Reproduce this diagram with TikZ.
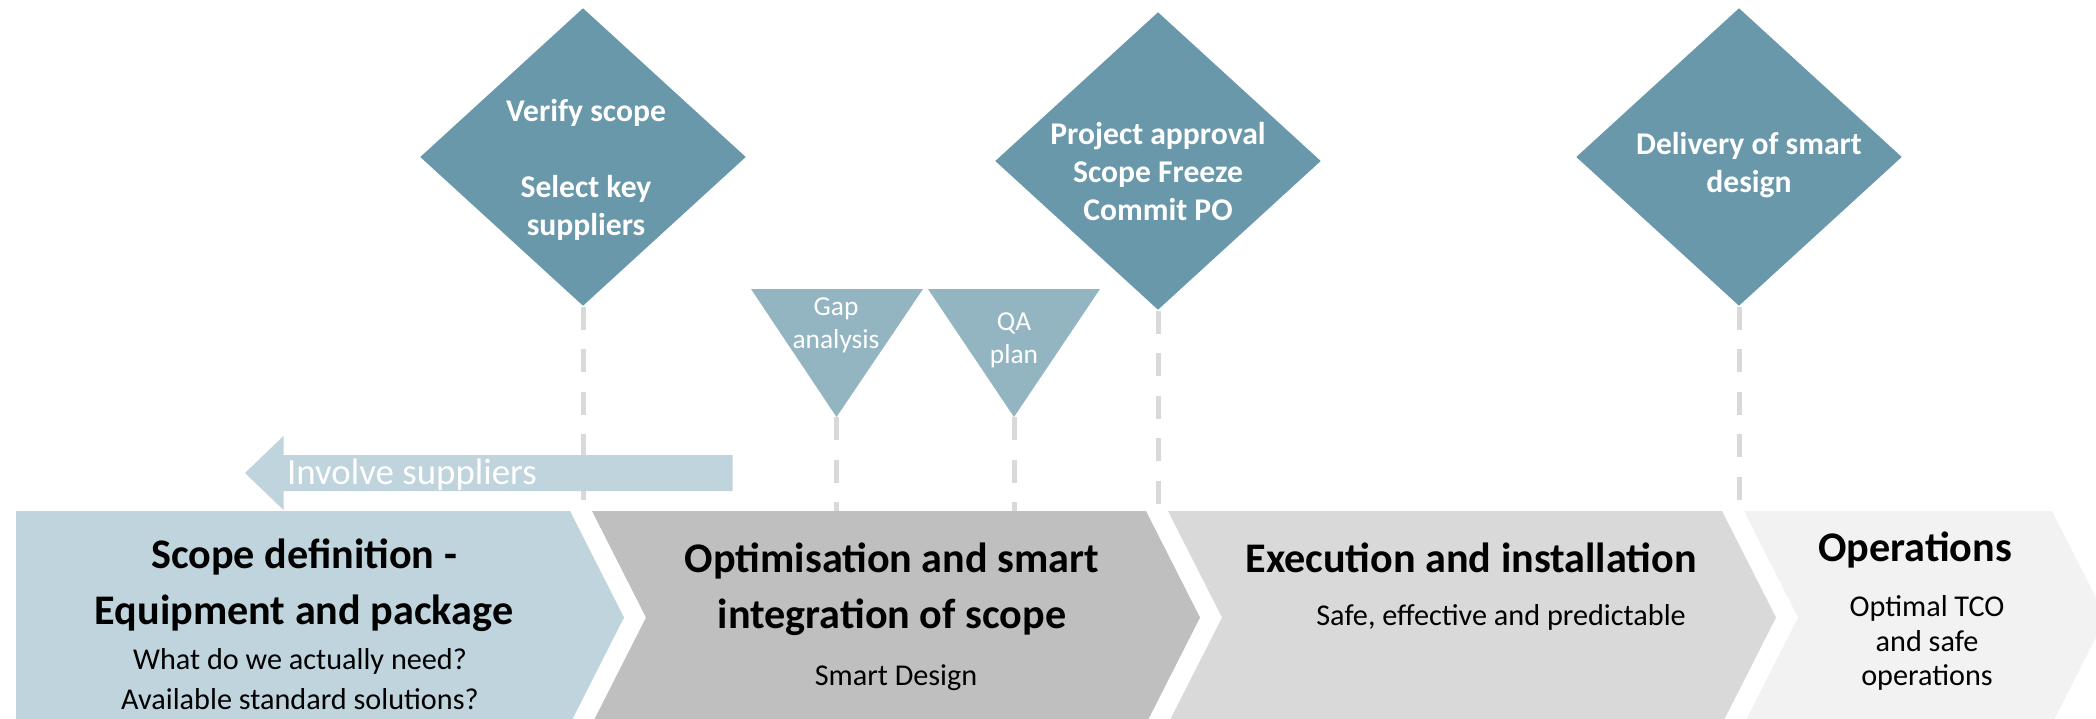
\documentclass[tikz,border=0pt]{standalone}
\usepackage{fontspec}
\setmainfont{Carlito}
\usepackage{tikz}
\usetikzlibrary{shapes.geometric, positioning}
\definecolor{scopeblue}{RGB}{191,212,220}
\definecolor{optgray}{RGB}{191,191,191}
\definecolor{execgray}{RGB}{217,217,217}
\definecolor{opsgray}{RGB}{242,242,242}
\definecolor{gateblue}{RGB}{104,152,170}
\definecolor{checkblue}{RGB}{147,181,194}
\definecolor{guidegray}{RGB}{217,217,217}

\begin{document}
\begin{tikzpicture}[scale=1]
        % Define styles
        \tikzset{
            gate/.style={diamond, fill=gateblue, inner sep=0pt, minimum width=3.26cm, minimum height=2.98cm},
            gatetext/.style={text=white, font=\fontsize{9}{10.8}\selectfont\bfseries, align=center, inner sep=0pt},
            checktext/.style={text=white, font=\fontsize{7.8}{9.5}\selectfont, align=center, inner sep=0pt},
            guide/.style={guidegray, line width=0.05cm, dash pattern=on 0.23cm off 0.195cm},
            phasehead/.style={font=\fontsize{12}{15.9}\selectfont\bfseries, align=center, inner sep=0pt},
            phasesub/.style={font=\fontsize{8.6}{11.4}\selectfont, align=center, inner sep=0pt}
        }
        \useasboundingbox (0,0) rectangle (20.96,7.18);
        % Phase chevrons along the bottom
        \fill[scopeblue] (0.16,2.07) -- (5.70,2.07) -- (6.24,1.005) -- (5.70,-0.06) -- (0.16,-0.06) -- cycle;
        \fill[optgray] (5.92,2.07) -- (11.46,2.07) -- (12.00,1.005) -- (11.46,-0.06) -- (5.92,-0.06) -- (6.46,1.005) -- cycle;
        \fill[execgray] (11.68,2.07) -- (17.22,2.07) -- (17.76,1.005) -- (17.22,-0.06) -- (11.68,-0.06) -- (12.22,1.005) -- cycle;
        \fill[opsgray] (17.44,2.07) -- (20.52,2.07) -- (21.06,1.005) -- (20.52,-0.06) -- (17.44,-0.06) -- (17.98,1.005) -- cycle;
        \coordinate (railtop) at (0,2.07);
        % Decision gates
        \node[gate] (verify) at (5.83,5.61) {};
        \node[gate] (approve) at (11.58,5.57) {};
        \node[gate] (deliver) at (17.39,5.61) {};
        % Gap analysis and QA plan checkpoints
        \coordinate (gaptip) at (8.365,3.01);
        \coordinate (qatip) at (10.14,3.01);
        \fill[checkblue] (7.51,4.29) -- (9.23,4.29) -- (gaptip) -- cycle;
        \fill[checkblue] (9.28,4.29) -- (11.00,4.29) -- (qatip) -- cycle;
        % Dashed guides down to the phases
        \draw[guide] (verify.south) -- (verify.south |- railtop);
        \draw[guide] (approve.south) -- (approve.south |- railtop);
        \draw[guide] (deliver.south) -- (deliver.south |- railtop);
        \draw[guide] (gaptip) -- (gaptip |- railtop);
        \draw[guide] (qatip) -- (qatip |- railtop);
        % "Involve suppliers" arrow pointing back
        \fill[scopeblue] (7.325,2.63) -- (2.835,2.63) -- (2.835,2.82) -- (2.45,2.45) -- (2.835,2.08) -- (2.835,2.27) -- (7.325,2.27) -- cycle;
        \node[font=\fontsize{10.5}{12}\selectfont, text=white, inner sep=0pt] (involve) at (4.12,2.43) {Involve suppliers};
        % Texts of gates and checkpoints
        \node[gatetext] (verifytext) at (5.86,5.48) {Verify scope\\[10.8pt]Select key\\suppliers};
        \node[gatetext] (approvetext) at (11.58,5.465) {Project approval\\Scope Freeze\\Commit PO};
        \node[gatetext] (delivertext) at (17.49,5.525) {Delivery of smart\\design};
        \node[checktext] (gaptext) at (8.36,3.925) {Gap\\analysis};
        \node[checktext] (qatext) at (10.14,3.775) {QA\\plan};
        % Phase texts
        \node[phasehead] (scopehead) at (3.04,1.33) {Scope definition -\\Equipment and package};
        \node[phasesub] (scopesub) at (3.00,0.39) {What do we actually need?\\Available standard solutions?};
        \node[phasehead] (opthead) at (8.92,1.29) {Optimisation and smart\\integration of scope};
        \node[phasesub] (optsub) at (8.96,0.405) {Smart Design};
        \node[phasehead] (exechead) at (14.71,1.60) {Execution and installation};
        \node[phasesub] (execsub) at (15.01,1.005) {Safe, effective and predictable};
        \node[phasehead] (opshead) at (19.15,1.68) {Operations};
        \node[phasesub, font=\fontsize{8.6}{9.7}\selectfont] (opssub) at (19.27,0.75) {Optimal TCO\\and safe\\operations};
    \end{tikzpicture}
\end{document}
